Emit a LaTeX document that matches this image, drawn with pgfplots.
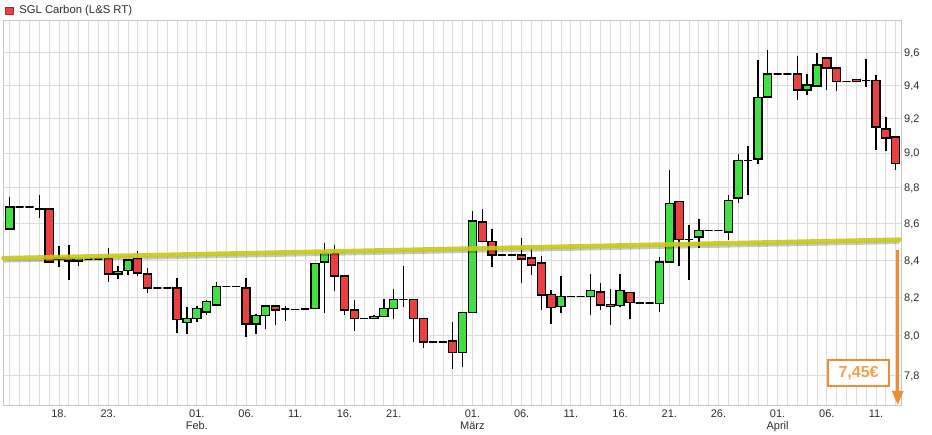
\documentclass[border=0pt]{standalone}
\usepackage{pgfplots}
\pgfplotsset{compat=1.18}
\usepackage{pgfplotstable}
\usepackage{fontspec}
\setmainfont{Liberation Sans}
\usetikzlibrary{arrows.meta}
\definecolor{cgreen}{RGB}{64,224,64}
\definecolor{cred}{RGB}{234,64,64}
\definecolor{gridc}{RGB}{220,220,220}
\definecolor{framec}{RGB}{200,200,200}
\definecolor{trend}{RGB}{200,200,20}
\definecolor{orangeA}{RGB}{240,140,50}
\definecolor{orangeT}{RGB}{245,160,80}
\definecolor{labc}{RGB}{45,45,45}

% day of year 2023, open, high, low, close
\pgfplotstableread{
d o h l c
13 8.570 8.746 8.565 8.692
14 8.692 8.692 8.692 8.692
15 8.692 8.692 8.692 8.692
16 8.685 8.761 8.629 8.681
17 8.681 8.683 8.388 8.390
18 8.413 8.475 8.365 8.405
19 8.411 8.480 8.292 8.395
20 8.395 8.413 8.366 8.408
21 8.406 8.406 8.406 8.406
22 8.406 8.406 8.406 8.406
23 8.408 8.466 8.283 8.326
24 8.326 8.370 8.299 8.337
25 8.343 8.406 8.318 8.400
26 8.408 8.447 8.313 8.331
27 8.326 8.358 8.225 8.251
28 8.251 8.251 8.251 8.251
29 8.251 8.251 8.251 8.251
30 8.251 8.305 8.012 8.083
31 8.068 8.151 8.010 8.089
32 8.089 8.154 8.071 8.141
33 8.124 8.189 8.107 8.179
34 8.161 8.281 8.158 8.257
35 8.257 8.257 8.257 8.257
36 8.257 8.257 8.257 8.257
37 8.251 8.305 7.995 8.062
38 8.062 8.115 8.010 8.104
39 8.104 8.158 8.036 8.156
40 8.156 8.156 8.054 8.135
41 8.139 8.156 8.075 8.139
42 8.137 8.137 8.137 8.137
43 8.139 8.139 8.139 8.139
44 8.141 8.386 8.141 8.381
45 8.390 8.493 8.120 8.435
46 8.435 8.484 8.233 8.315
47 8.315 8.315 8.107 8.135
48 8.135 8.189 8.024 8.089
49 8.089 8.089 8.089 8.089
50 8.090 8.106 8.090 8.101
51 8.099 8.194 8.099 8.142
52 8.142 8.247 8.089 8.189
53 8.189 8.366 8.151 8.189
54 8.189 8.189 7.970 8.090
55 8.090 8.090 7.939 7.970
56 7.970 7.970 7.970 7.970
57 7.970 7.970 7.970 7.970
58 7.975 8.073 7.832 7.917
59 7.914 8.123 7.845 8.120
60 8.120 8.668 8.120 8.614
61 8.608 8.681 8.502 8.502
62 8.502 8.570 8.361 8.428
63 8.428 8.428 8.428 8.428
64 8.428 8.428 8.428 8.428
65 8.428 8.521 8.278 8.406
66 8.411 8.459 8.321 8.374
67 8.385 8.424 8.135 8.214
68 8.215 8.242 8.062 8.146
69 8.151 8.313 8.116 8.206
70 8.206 8.206 8.206 8.206
71 8.206 8.206 8.206 8.206
72 8.206 8.327 8.107 8.236
73 8.229 8.278 8.133 8.161
74 8.163 8.247 8.056 8.151
75 8.159 8.327 8.151 8.236
76 8.226 8.226 8.089 8.172
77 8.171 8.171 8.171 8.171
78 8.171 8.171 8.171 8.171
79 8.167 8.415 8.123 8.390
80 8.390 8.903 8.390 8.711
81 8.722 8.726 8.366 8.513
82 8.513 8.593 8.292 8.513
83 8.526 8.625 8.468 8.561
84 8.561 8.561 8.561 8.561
85 8.561 8.561 8.561 8.561
86 8.554 8.757 8.508 8.729
87 8.743 8.995 8.715 8.957
88 8.957 9.042 8.757 8.957
89 8.965 9.555 8.936 9.327
90 9.329 9.616 9.329 9.468
91 9.468 9.468 9.468 9.468
92 9.468 9.468 9.468 9.468
93 9.468 9.582 9.309 9.371
94 9.371 9.468 9.339 9.401
95 9.395 9.596 9.395 9.523
96 9.566 9.566 9.369 9.505
97 9.505 9.505 9.363 9.425
98 9.425 9.425 9.425 9.425
99 9.435 9.435 9.425 9.425
100 9.429 9.560 9.389 9.429
101 9.429 9.464 9.014 9.151
102 9.139 9.210 9.008 9.086
103 9.092 9.092 8.899 8.937
}\candles

\begin{document}
\begin{tikzpicture}
\path[use as bounding box] (-3.5bp,-30bp) rectangle (928.5bp,405bp);
\begin{axis}[
  at={(0,0)}, anchor=south west,
  scale only axis, width=897.5bp, height=385bp,
  xmin=12.36, xmax=103.54,
  ymode=log, ymin=7.653, ymax=9.804,
  clip=false,
  axis line style={draw=framec, line width=0.75bp},
  xtick={18,23,32,37,42,47,52,60,65,70,75,80,85,91,96,101},
  xticklabels={18.,23.,{01.\\Feb.},06.,11.,16.,21.,{01.\\März},06.,11.,16.,21.,26.,{01.\\April},06.,11.},
  minor xtick={13,...,103},
  ytick={7.8,8.0,8.2,8.4,8.6,8.8,9.0,9.2,9.4,9.6},
  yticklabels={{7,8},{8,0},{8,2},{8,4},{8,6},{8,8},{9,0},{9,2},{9,4},{9,6}},
  yticklabel pos=right,
  grid=both,
  major grid style={draw=gridc, line width=0.75bp},
  minor grid style={draw=gridc, line width=0.75bp},
  major tick length=0pt, minor tick length=0pt,
  tick style={draw=none},
  xticklabel style={align=center, anchor=north, inner sep=0pt, yshift=-4.3bp,
    font=\fontsize{11bp}{12.4bp}\selectfont, text=labc},
  yticklabel style={anchor=base west, inner sep=0pt, xshift=3bp, yshift=-3.9bp,
    font=\fontsize{11bp}{12.4bp}\selectfont, text=labc},
  legend cell align=left,
  legend style={at={(0,1)}, anchor=south west, draw=none, fill=none,
    inner sep=0pt, outer sep=0pt, xshift=1.5bp, yshift=2.5bp,
    font=\fontsize{11.3bp}{12bp}\selectfont, text=labc,
    /tikz/every odd column/.append style={column sep=4bp}},
]
\addlegendimage{legend image code/.code={\draw[fill=cred,draw=cred!70!black,line width=0.7bp] (0bp,-3.6bp) rectangle (7.6bp,3.6bp);}}
\addlegendentry{SGL Carbon (L\&S RT)}

\pgfplotstablegetrowsof{\candles}
\pgfmathtruncatemacro\Nrows{\pgfplotsretval-1}
\pgfplotsforeachungrouped \i in {0,...,\Nrows}{%
  \pgfplotstablegetelem{\i}{d}\of\candles \let\candD\pgfplotsretval
  \pgfplotstablegetelem{\i}{o}\of\candles \let\candO\pgfplotsretval
  \pgfplotstablegetelem{\i}{h}\of\candles \let\candH\pgfplotsretval
  \pgfplotstablegetelem{\i}{l}\of\candles \let\candL\pgfplotsretval
  \pgfplotstablegetelem{\i}{c}\of\candles \let\candC\pgfplotsretval
  \ifdim\candC pt>\candO pt \def\ccol{cgreen}\else
    \ifdim\candC pt<\candO pt \def\ccol{cred}\else \def\ccol{black}\fi\fi
  \pgfmathsetmacro\xa{\candD-0.41}%
  \pgfmathsetmacro\xb{\candD+0.41}%
  \edef\temp{%
    \noexpand\addplot[draw=black, line width=1.4bp, forget plot]
      coordinates {(\candD,\candH) (\candD,\candL)};
    \noexpand\addplot[draw=black, fill=\ccol, line width=1.35bp, forget plot]
      coordinates {(\xa,\candO) (\xb,\candO) (\xb,\candC) (\xa,\candC)} -- cycle;
  }%
  \temp
}

% trend line with shadow
\addplot[draw=black, opacity=0.22, line width=3.5bp, forget plot]
  coordinates {(12.36,8.396) (103.4,8.497)};
\addplot[draw=trend, opacity=0.9, line width=4.6bp, line cap=round, forget plot]
  coordinates {(12.36,8.410) (103.4,8.511)};

% target arrow
\addplot[draw=orangeA, line width=2.6bp, -{Triangle[width=11bp,length=14bp]}, forget plot]
  coordinates {(103.21,8.456) (103.21,7.653)};
\node[draw=orangeA, line width=2bp, fill=white, text=orangeT,
  font=\bfseries\fontsize{16bp}{16bp}\selectfont,
  minimum width=61.6bp, minimum height=25.7bp, inner sep=0pt]
  at (axis cs:99.23,7.810) {7,45€};
\end{axis}
\end{tikzpicture}
\end{document}
